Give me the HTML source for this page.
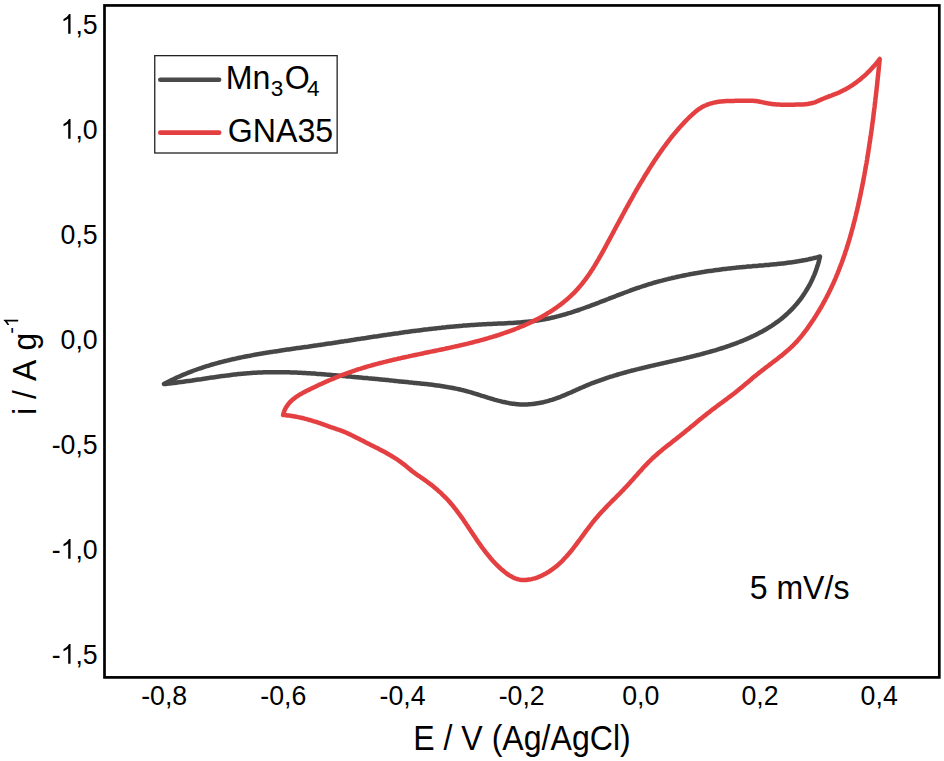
<!DOCTYPE html>
<html><head><meta charset="utf-8"><style>
html,body{margin:0;padding:0;background:#fff;}
svg{display:block;}
text{font-family:"Liberation Sans", sans-serif;fill:#000;}
</style></head><body>
<svg width="944" height="761" viewBox="0 0 944 761">
<rect x="0" y="0" width="944" height="761" fill="#fff"/>
<text transform="translate(164.15,705.30) scale(1,1.02)" font-size="26.7" text-anchor="middle" >-0,8</text>
<text transform="translate(283.32,705.30) scale(1,1.02)" font-size="26.7" text-anchor="middle" >-0,6</text>
<text transform="translate(402.49,705.30) scale(1,1.02)" font-size="26.7" text-anchor="middle" >-0,4</text>
<text transform="translate(521.66,705.30) scale(1,1.02)" font-size="26.7" text-anchor="middle" >-0,2</text>
<text transform="translate(640.83,705.30) scale(1,1.02)" font-size="26.7" text-anchor="middle" >0,0</text>
<text transform="translate(760.00,705.30) scale(1,1.02)" font-size="26.7" text-anchor="middle" >0,2</text>
<text transform="translate(879.17,705.30) scale(1,1.02)" font-size="26.7" text-anchor="middle" >0,4</text>
<path transform="translate(60.60,33.65) scale(26.7,27.234)" d="M0.3726,0L0.2847,0L0.2847,-0.560Q0.2529,-0.5298 0.2012,-0.4995Q0.1499,-0.4692 0.1089,-0.4541L0.1089,-0.5391Q0.1826,-0.5737 0.2378,-0.623Q0.2930,-0.6724 0.3159,-0.7188L0.3726,-0.7188Z"/>
<text transform="translate(75.45,33.65) scale(1,1.02)" font-size="26.7">,5</text>
<path transform="translate(60.60,138.65) scale(26.7,27.234)" d="M0.3726,0L0.2847,0L0.2847,-0.560Q0.2529,-0.5298 0.2012,-0.4995Q0.1499,-0.4692 0.1089,-0.4541L0.1089,-0.5391Q0.1826,-0.5737 0.2378,-0.623Q0.2930,-0.6724 0.3159,-0.7188L0.3726,-0.7188Z"/>
<text transform="translate(75.45,138.65) scale(1,1.02)" font-size="26.7">,0</text>
<text transform="translate(60.60,243.65) scale(1,1.02)" font-size="26.7">0,5</text>
<text transform="translate(60.60,348.65) scale(1,1.02)" font-size="26.7">0,0</text>
<text transform="translate(51.71,453.65) scale(1,1.02)" font-size="26.7">-0,5</text>
<text transform="translate(51.71,558.65) scale(1,1.02)" font-size="26.7">-</text>
<path transform="translate(60.60,558.65) scale(26.7,27.234)" d="M0.3726,0L0.2847,0L0.2847,-0.560Q0.2529,-0.5298 0.2012,-0.4995Q0.1499,-0.4692 0.1089,-0.4541L0.1089,-0.5391Q0.1826,-0.5737 0.2378,-0.623Q0.2930,-0.6724 0.3159,-0.7188L0.3726,-0.7188Z"/>
<text transform="translate(75.45,558.65) scale(1,1.02)" font-size="26.7">,0</text>
<text transform="translate(51.71,663.65) scale(1,1.02)" font-size="26.7">-</text>
<path transform="translate(60.60,663.65) scale(26.7,27.234)" d="M0.3726,0L0.2847,0L0.2847,-0.560Q0.2529,-0.5298 0.2012,-0.4995Q0.1499,-0.4692 0.1089,-0.4541L0.1089,-0.5391Q0.1826,-0.5737 0.2378,-0.623Q0.2930,-0.6724 0.3159,-0.7188L0.3726,-0.7188Z"/>
<text transform="translate(75.45,663.65) scale(1,1.02)" font-size="26.7">,5</text>
<path d="M164.0,384.0L165.3,383.3L166.7,382.6L168.0,381.9L169.3,381.2L170.7,380.5L172.0,379.9L173.4,379.2L174.7,378.6L176.1,377.9L177.4,377.3L178.8,376.7L180.2,376.1L181.5,375.5L182.9,374.9L184.3,374.3L185.7,373.8L187.0,373.2L188.4,372.6L189.8,372.1L191.2,371.6L192.6,371.0L194.0,370.5L195.4,370.0L196.8,369.5L198.2,369.0L199.6,368.5L201.0,368.1L202.4,367.6L203.8,367.1L205.2,366.7L206.7,366.2L208.1,365.8L209.5,365.4L210.9,364.9L212.3,364.5L213.8,364.1L215.2,363.7L216.6,363.3L218.1,362.9L219.5,362.5L220.9,362.1L222.4,361.8L223.8,361.4L225.3,361.0L226.7,360.7L228.2,360.3L229.6,360.0L231.1,359.6L232.5,359.3L234.0,359.0L235.4,358.7L236.9,358.3L238.3,358.0L239.8,357.7L241.3,357.4L242.7,357.1L244.2,356.8L245.7,356.5L247.1,356.2L248.6,355.9L250.1,355.7L251.5,355.4L253.0,355.1L254.5,354.8L256.0,354.6L257.4,354.3L258.9,354.1L260.4,353.8L261.9,353.6L263.3,353.3L264.8,353.1L266.3,352.8L267.8,352.6L269.3,352.3L270.8,352.1L272.2,351.9L273.7,351.6L275.2,351.4L276.7,351.2L278.2,351.0L279.7,350.7L281.2,350.5L282.6,350.3L284.1,350.1L285.6,349.8L287.1,349.6L288.6,349.4L290.1,349.2L291.6,349.0L293.1,348.8L294.6,348.6L296.0,348.3L297.5,348.1L299.0,347.9L300.5,347.7L302.0,347.5L303.5,347.3L305.0,347.1L306.5,346.9L308.0,346.7L309.4,346.4L310.9,346.2L312.4,346.0L313.9,345.8L315.4,345.6L316.9,345.4L318.4,345.1L319.9,344.9L321.3,344.7L322.8,344.5L324.3,344.3L325.8,344.0L327.3,343.8L328.8,343.6L330.2,343.4L331.7,343.2L333.2,342.9L334.7,342.7L336.2,342.5L337.7,342.3L339.1,342.0L340.6,341.8L342.1,341.6L343.6,341.4L345.1,341.1L346.5,340.9L348.0,340.7L349.5,340.4L351.0,340.2L352.5,340.0L353.9,339.8L355.4,339.5L356.9,339.3L358.4,339.1L359.9,338.9L361.3,338.6L362.8,338.4L364.3,338.2L365.8,338.0L367.3,337.7L368.7,337.5L370.2,337.3L371.7,337.1L373.2,336.8L374.6,336.6L376.1,336.4L377.6,336.2L379.1,335.9L380.6,335.7L382.0,335.5L383.5,335.3L385.0,335.1L386.5,334.9L387.9,334.6L389.4,334.4L390.9,334.2L392.4,334.0L393.9,333.8L395.3,333.6L396.8,333.4L398.3,333.2L399.8,332.9L401.2,332.7L402.7,332.5L404.2,332.3L405.7,332.1L407.2,331.9L408.6,331.7L410.1,331.5L411.6,331.3L413.1,331.1L414.6,330.9L416.0,330.7L417.5,330.6L419.0,330.4L420.5,330.2L422.0,330.0L423.4,329.8L424.9,329.6L426.4,329.4L427.9,329.3L429.4,329.1L430.9,328.9L432.3,328.7L433.8,328.6L435.3,328.4L436.8,328.2L438.3,328.1L439.8,327.9L441.2,327.8L442.7,327.6L444.2,327.4L445.7,327.3L447.2,327.1L448.7,327.0L450.2,326.8L451.6,326.7L453.1,326.6L454.6,326.4L456.1,326.3L457.6,326.2L459.1,326.0L460.6,325.9L462.1,325.8L463.6,325.6L465.1,325.5L466.5,325.4L468.0,325.3L469.5,325.2L471.0,325.1L472.5,325.0L474.0,324.9L475.5,324.8L477.0,324.7L478.5,324.6L480.0,324.5L481.5,324.4L483.0,324.3L484.5,324.2L486.0,324.2L487.5,324.1L489.0,324.0L490.5,324.0L492.0,323.9L493.5,323.8L495.0,323.8L496.5,323.7L498.0,323.6L499.5,323.6L501.0,323.5L502.5,323.4L504.0,323.4L505.5,323.3L507.0,323.2L508.5,323.1L510.0,323.1L511.5,323.0L513.0,322.9L514.5,322.8L516.0,322.7L517.5,322.6L519.0,322.5L520.5,322.4L522.0,322.2L523.5,322.1L525.0,322.0L526.5,321.8L527.9,321.7L529.4,321.5L530.9,321.4L532.4,321.2L533.9,321.0L535.3,320.8L536.8,320.6L538.3,320.4L539.8,320.1L541.2,319.9L542.7,319.6L544.2,319.4L545.6,319.1L547.1,318.8L548.5,318.5L550.0,318.2L551.4,317.8L552.9,317.5L554.3,317.2L555.8,316.8L557.2,316.4L558.7,316.1L560.1,315.7L561.5,315.3L563.0,314.9L564.4,314.5L565.8,314.1L567.3,313.6L568.7,313.2L570.1,312.8L571.6,312.3L573.0,311.9L574.4,311.4L575.8,310.9L577.2,310.5L578.7,310.0L580.1,309.5L581.5,309.0L582.9,308.5L584.3,308.0L585.7,307.5L587.1,307.0L588.6,306.5L590.0,306.0L591.4,305.4L592.8,304.9L594.2,304.4L595.6,303.9L597.0,303.3L598.4,302.8L599.8,302.2L601.2,301.7L602.6,301.2L604.0,300.6L605.4,300.1L606.8,299.5L608.2,299.0L609.6,298.4L611.0,297.9L612.4,297.4L613.8,296.8L615.2,296.3L616.6,295.7L618.0,295.2L619.4,294.6L620.8,294.1L622.2,293.6L623.7,293.0L625.1,292.5L626.5,292.0L627.9,291.5L629.3,291.0L630.7,290.4L632.1,289.9L633.5,289.4L634.9,288.9L636.3,288.4L637.8,287.9L639.2,287.5L640.6,287.0L642.0,286.5L643.4,286.0L644.9,285.6L646.3,285.1L647.7,284.7L649.2,284.2L650.6,283.8L652.0,283.4L653.4,282.9L654.9,282.5L656.3,282.1L657.8,281.7L659.2,281.3L660.6,280.9L662.1,280.6L663.5,280.2L665.0,279.8L666.4,279.4L667.9,279.1L669.3,278.7L670.8,278.4L672.2,278.0L673.7,277.7L675.1,277.4L676.6,277.0L678.0,276.7L679.5,276.4L681.0,276.1L682.4,275.8L683.9,275.5L685.4,275.2L686.8,274.9L688.3,274.6L689.7,274.3L691.2,274.0L692.7,273.8L694.2,273.5L695.6,273.2L697.1,273.0L698.6,272.7L700.0,272.5L701.5,272.2L703.0,272.0L704.5,271.8L705.9,271.5L707.4,271.3L708.9,271.1L710.4,270.9L711.9,270.7L713.3,270.5L714.8,270.2L716.3,270.0L717.8,269.9L719.3,269.7L720.8,269.5L722.2,269.3L723.7,269.1L725.2,268.9L726.7,268.7L728.2,268.6L729.7,268.4L731.2,268.2L732.7,268.1L734.1,267.9L735.6,267.8L737.1,267.6L738.6,267.5L740.1,267.3L741.6,267.2L743.1,267.0L744.6,266.9L746.1,266.8L747.6,266.6L749.0,266.5L750.5,266.4L752.0,266.3L753.5,266.1L755.0,266.0L756.5,265.9L758.0,265.8L759.5,265.6L761.0,265.5L762.5,265.4L764.0,265.3L765.5,265.1L766.9,265.0L768.4,264.9L769.9,264.7L771.4,264.6L772.9,264.5L774.4,264.3L775.9,264.2L777.4,264.0L778.8,263.8L780.3,263.7L781.8,263.5L783.3,263.4L784.8,263.2L786.3,263.0L787.7,262.8L789.2,262.6L790.7,262.4L792.2,262.2L793.7,262.0L795.1,261.8L796.6,261.5L798.1,261.3L799.6,261.0L801.0,260.8L802.5,260.5L804.0,260.2L805.4,260.0L806.9,259.7L808.4,259.4L809.8,259.0L811.3,258.7L812.7,258.4L814.2,258.0L815.6,257.7L817.1,257.3L818.6,256.9L820.0,256.5L819.7,258.0L819.3,259.4L819.0,260.9L818.6,262.3L818.2,263.7L817.7,265.2L817.3,266.6L816.8,268.0L816.3,269.5L815.8,270.9L815.3,272.3L814.8,273.7L814.2,275.1L813.6,276.4L813.0,277.8L812.4,279.2L811.7,280.6L811.1,281.9L810.4,283.3L809.7,284.6L809.0,285.9L808.2,287.2L807.5,288.5L806.7,289.8L805.9,291.1L805.1,292.4L804.3,293.6L803.5,294.9L802.6,296.1L801.8,297.4L800.9,298.6L800.0,299.8L799.0,301.0L798.1,302.1L797.2,303.3L796.2,304.4L795.2,305.6L794.2,306.7L793.2,307.8L792.2,308.9L791.2,309.9L790.1,311.0L789.0,312.0L788.0,313.0L786.9,314.1L785.8,315.0L784.7,316.0L783.5,317.0L782.4,317.9L781.2,318.9L780.1,319.8L778.9,320.7L777.7,321.6L776.5,322.4L775.3,323.3L774.1,324.2L772.8,325.0L771.6,325.8L770.3,326.6L769.1,327.4L767.8,328.2L766.5,329.0L765.2,329.7L763.9,330.5L762.6,331.2L761.3,331.9L760.0,332.6L758.7,333.3L757.3,334.0L756.0,334.7L754.7,335.3L753.3,336.0L751.9,336.6L750.6,337.3L749.2,337.9L747.8,338.5L746.4,339.1L745.0,339.7L743.7,340.3L742.3,340.9L740.9,341.4L739.4,342.0L738.0,342.5L736.6,343.1L735.2,343.6L733.8,344.1L732.4,344.6L730.9,345.2L729.5,345.7L728.1,346.1L726.7,346.6L725.2,347.1L723.8,347.6L722.4,348.0L720.9,348.5L719.5,348.9L718.1,349.4L716.6,349.8L715.2,350.3L713.7,350.7L712.3,351.1L710.8,351.5L709.4,351.9L708.0,352.3L706.5,352.7L705.1,353.1L703.6,353.5L702.2,353.9L700.7,354.3L699.3,354.7L697.8,355.0L696.3,355.4L694.9,355.8L693.4,356.1L692.0,356.5L690.5,356.8L689.1,357.2L687.6,357.5L686.2,357.9L684.7,358.2L683.2,358.6L681.8,358.9L680.3,359.3L678.9,359.6L677.4,359.9L675.9,360.3L674.5,360.6L673.0,360.9L671.6,361.3L670.1,361.6L668.6,361.9L667.2,362.3L665.7,362.6L664.3,362.9L662.8,363.3L661.3,363.6L659.9,363.9L658.4,364.3L657.0,364.6L655.5,364.9L654.1,365.3L652.6,365.6L651.1,365.9L649.7,366.3L648.2,366.6L646.8,367.0L645.3,367.3L643.9,367.7L642.4,368.0L641.0,368.4L639.5,368.7L638.1,369.1L636.6,369.4L635.2,369.8L633.7,370.2L632.3,370.5L630.8,370.9L629.4,371.3L627.9,371.7L626.5,372.1L625.1,372.5L623.6,372.9L622.2,373.3L620.7,373.7L619.3,374.1L617.9,374.5L616.4,375.0L615.0,375.4L613.6,375.8L612.1,376.3L610.7,376.7L609.3,377.2L607.9,377.6L606.4,378.1L605.0,378.6L603.6,379.1L602.2,379.6L600.8,380.1L599.4,380.6L598.0,381.1L596.5,381.6L595.1,382.1L593.7,382.7L592.3,383.2L590.9,383.7L589.5,384.3L588.1,384.9L586.8,385.4L585.4,386.0L584.0,386.6L582.6,387.2L581.2,387.8L579.8,388.4L578.5,389.0L577.1,389.6L575.7,390.3L574.3,390.9L572.9,391.5L571.6,392.1L570.2,392.7L568.8,393.3L567.4,393.9L566.0,394.5L564.6,395.1L563.2,395.7L561.9,396.2L560.5,396.8L559.1,397.3L557.6,397.8L556.2,398.4L554.8,398.8L553.4,399.3L552.0,399.8L550.5,400.2L549.1,400.7L547.7,401.1L546.2,401.4L544.8,401.8L543.3,402.2L541.9,402.5L540.4,402.8L538.9,403.1L537.5,403.3L536.0,403.5L534.5,403.7L533.1,403.9L531.6,404.1L530.1,404.2L528.7,404.3L527.2,404.4L525.7,404.5L524.2,404.5L522.8,404.5L521.3,404.4L519.8,404.4L518.3,404.3L516.9,404.2L515.4,404.0L513.9,403.8L512.5,403.7L511.0,403.4L509.6,403.2L508.1,402.9L506.6,402.6L505.2,402.3L503.7,402.0L502.3,401.7L500.8,401.3L499.4,400.9L497.9,400.6L496.4,400.2L495.0,399.8L493.5,399.3L492.1,398.9L490.6,398.5L489.2,398.0L487.7,397.6L486.3,397.1L484.8,396.7L483.4,396.2L481.9,395.8L480.5,395.3L479.0,394.9L477.6,394.4L476.1,394.0L474.7,393.5L473.2,393.1L471.8,392.6L470.3,392.2L468.9,391.8L467.4,391.4L465.9,391.0L464.5,390.6L463.0,390.2L461.6,389.9L460.1,389.5L458.7,389.2L457.2,388.9L455.7,388.6L454.3,388.3L452.8,388.0L451.3,387.7L449.9,387.4L448.4,387.2L446.9,386.9L445.5,386.7L444.0,386.4L442.5,386.2L441.1,386.0L439.6,385.8L438.1,385.6L436.7,385.4L435.2,385.2L433.7,385.0L432.2,384.8L430.8,384.6L429.3,384.5L427.8,384.3L426.3,384.1L424.9,384.0L423.4,383.8L421.9,383.7L420.4,383.5L418.9,383.3L417.5,383.2L416.0,383.0L414.5,382.9L413.0,382.7L411.5,382.6L410.0,382.4L408.6,382.3L407.1,382.1L405.6,382.0L404.1,381.8L402.6,381.7L401.1,381.5L399.6,381.4L398.1,381.2L396.6,381.1L395.2,380.9L393.7,380.7L392.2,380.6L390.7,380.4L389.2,380.3L387.7,380.1L386.2,380.0L384.7,379.8L383.2,379.7L381.7,379.5L380.2,379.4L378.7,379.2L377.3,379.1L375.8,379.0L374.3,378.8L372.8,378.7L371.3,378.5L369.8,378.4L368.3,378.3L366.8,378.1L365.3,378.0L363.8,377.9L362.3,377.7L360.8,377.6L359.4,377.5L357.9,377.3L356.4,377.2L354.9,377.0L353.4,376.9L351.9,376.8L350.4,376.6L348.9,376.5L347.4,376.4L345.9,376.2L344.4,376.1L342.9,376.0L341.5,375.8L340.0,375.7L338.5,375.6L337.0,375.4L335.5,375.3L334.0,375.2L332.5,375.1L331.0,374.9L329.5,374.8L328.0,374.7L326.5,374.6L325.0,374.4L323.5,374.3L322.0,374.2L320.6,374.1L319.1,374.0L317.6,373.9L316.1,373.8L314.6,373.6L313.1,373.5L311.6,373.4L310.1,373.3L308.6,373.3L307.1,373.2L305.6,373.1L304.1,373.0L302.6,372.9L301.1,372.8L299.6,372.8L298.1,372.7L296.7,372.6L295.2,372.6L293.7,372.5L292.2,372.4L290.7,372.4L289.2,372.3L287.7,372.3L286.2,372.3L284.7,372.2L283.2,372.2L281.7,372.2L280.2,372.2L278.7,372.2L277.2,372.2L275.7,372.2L274.2,372.2L272.7,372.2L271.2,372.2L269.8,372.2L268.3,372.2L266.8,372.3L265.3,372.3L263.8,372.3L262.3,372.4L260.8,372.5L259.3,372.5L257.8,372.6L256.3,372.7L254.8,372.8L253.3,372.8L251.8,372.9L250.3,373.1L248.8,373.2L247.3,373.3L245.9,373.4L244.4,373.5L242.9,373.7L241.4,373.8L239.9,374.0L238.4,374.1L236.9,374.3L235.4,374.5L233.9,374.6L232.4,374.8L230.9,375.0L229.4,375.2L227.9,375.4L226.4,375.6L225.0,375.7L223.5,375.9L222.0,376.1L220.5,376.3L219.0,376.6L217.5,376.8L216.0,377.0L214.5,377.2L213.0,377.4L211.5,377.6L210.0,377.8L208.6,378.1L207.1,378.3L205.6,378.5L204.1,378.7L202.6,378.9L201.1,379.2L199.6,379.4L198.1,379.6L196.7,379.8L195.2,380.0L193.7,380.2L192.2,380.5L190.7,380.7L189.2,380.9L187.7,381.1L186.2,381.3L184.8,381.5L183.3,381.7L181.8,381.9L180.3,382.1L178.8,382.3L177.3,382.5L175.9,382.7L174.4,382.9L172.9,383.0L171.4,383.2L169.9,383.4L168.4,383.5L167.0,383.7L165.5,383.9L164.0,384.0" fill="none" stroke="#474747" stroke-width="4.5" stroke-linejoin="round" stroke-linecap="round"/>
<path d="M283.1,415.0L283.5,413.4L284.0,411.9L284.5,410.5L285.2,409.1L285.8,407.8L286.6,406.6L287.4,405.4L288.3,404.2L289.2,403.1L290.1,402.0L291.2,401.0L292.2,400.0L293.3,399.1L294.5,398.2L295.6,397.3L296.8,396.5L298.1,395.7L299.3,394.9L300.6,394.1L301.9,393.4L303.3,392.6L304.6,391.9L305.9,391.2L307.3,390.5L308.7,389.9L310.0,389.2L311.4,388.5L312.8,387.9L314.1,387.2L315.5,386.6L316.9,385.9L318.3,385.3L319.6,384.6L321.0,384.0L322.4,383.4L323.8,382.7L325.1,382.1L326.5,381.5L327.9,380.9L329.3,380.3L330.7,379.7L332.1,379.1L333.5,378.6L334.8,378.0L336.2,377.4L337.6,376.8L339.0,376.3L340.4,375.7L341.8,375.2L343.2,374.7L344.6,374.1L346.0,373.6L347.4,373.1L348.8,372.6L350.2,372.1L351.7,371.6L353.1,371.1L354.5,370.6L355.9,370.2L357.3,369.7L358.7,369.2L360.2,368.8L361.6,368.3L363.0,367.9L364.4,367.5L365.9,367.0L367.3,366.6L368.7,366.2L370.2,365.8L371.6,365.4L373.0,365.0L374.5,364.6L375.9,364.2L377.4,363.8L378.8,363.4L380.2,363.0L381.7,362.7L383.1,362.3L384.6,361.9L386.0,361.6L387.5,361.2L388.9,360.9L390.4,360.5L391.8,360.2L393.3,359.8L394.7,359.5L396.2,359.2L397.7,358.8L399.1,358.5L400.6,358.2L402.0,357.8L403.5,357.5L404.9,357.2L406.4,356.9L407.9,356.6L409.3,356.2L410.8,355.9L412.3,355.6L413.7,355.3L415.2,355.0L416.6,354.7L418.1,354.4L419.6,354.1L421.0,353.8L422.5,353.5L424.0,353.1L425.4,352.8L426.9,352.5L428.4,352.2L429.8,351.9L431.3,351.6L432.8,351.3L434.2,351.0L435.7,350.7L437.2,350.4L438.6,350.1L440.1,349.8L441.6,349.5L443.0,349.2L444.5,348.9L446.0,348.5L447.4,348.2L448.9,347.9L450.4,347.6L451.8,347.3L453.3,346.9L454.8,346.6L456.2,346.3L457.7,346.0L459.2,345.6L460.6,345.3L462.1,344.9L463.5,344.6L465.0,344.3L466.5,343.9L467.9,343.6L469.4,343.2L470.8,342.8L472.3,342.5L473.7,342.1L475.2,341.7L476.6,341.3L478.1,341.0L479.6,340.6L481.0,340.2L482.5,339.8L483.9,339.4L485.3,339.0L486.8,338.6L488.2,338.2L489.7,337.7L491.1,337.3L492.6,336.9L494.0,336.4L495.4,336.0L496.9,335.5L498.3,335.1L499.7,334.6L501.2,334.1L502.6,333.6L504.0,333.2L505.5,332.7L506.9,332.2L508.3,331.7L509.7,331.1L511.2,330.6L512.6,330.1L514.0,329.6L515.4,329.0L516.8,328.5L518.2,327.9L519.6,327.3L521.0,326.7L522.4,326.2L523.8,325.6L525.2,325.0L526.5,324.3L527.9,323.7L529.3,323.1L530.6,322.4L532.0,321.8L533.4,321.1L534.7,320.5L536.0,319.8L537.4,319.1L538.7,318.4L540.0,317.7L541.3,317.0L542.7,316.2L544.0,315.5L545.2,314.8L546.5,314.0L547.8,313.2L549.1,312.4L550.3,311.7L551.6,310.8L552.8,310.0L554.1,309.2L555.3,308.4L556.5,307.5L557.7,306.7L558.9,305.8L560.1,304.9L561.3,304.0L562.4,303.1L563.6,302.2L564.7,301.2L565.9,300.3L567.0,299.3L568.1,298.4L569.2,297.4L570.3,296.4L571.4,295.4L572.4,294.3L573.5,293.3L574.5,292.3L575.6,291.2L576.6,290.1L577.6,289.0L578.5,287.9L579.5,286.8L580.5,285.7L581.4,284.5L582.4,283.4L583.3,282.2L584.2,281.0L585.1,279.8L586.0,278.6L586.9,277.4L587.7,276.2L588.6,275.0L589.5,273.7L590.3,272.5L591.1,271.2L592.0,270.0L592.8,268.7L593.6,267.4L594.4,266.1L595.2,264.8L596.0,263.5L596.7,262.2L597.5,260.9L598.3,259.6L599.0,258.3L599.8,257.0L600.5,255.7L601.3,254.4L602.0,253.0L602.8,251.7L603.5,250.4L604.2,249.1L605.0,247.7L605.7,246.4L606.4,245.1L607.1,243.7L607.8,242.4L608.5,241.1L609.3,239.8L610.0,238.4L610.7,237.1L611.4,235.8L612.1,234.5L612.8,233.2L613.5,231.9L614.2,230.5L614.9,229.2L615.6,227.9L616.3,226.6L617.0,225.3L617.7,224.0L618.4,222.7L619.1,221.4L619.8,220.1L620.6,218.7L621.3,217.4L622.0,216.1L622.7,214.8L623.4,213.5L624.1,212.2L624.8,210.9L625.5,209.6L626.2,208.3L626.9,207.0L627.7,205.7L628.4,204.4L629.1,203.1L629.8,201.8L630.6,200.5L631.3,199.2L632.0,197.9L632.8,196.6L633.5,195.2L634.2,193.9L635.0,192.6L635.7,191.3L636.5,190.0L637.2,188.7L638.0,187.4L638.7,186.1L639.5,184.8L640.3,183.5L641.0,182.2L641.8,181.0L642.6,179.7L643.4,178.4L644.1,177.1L644.9,175.8L645.7,174.5L646.5,173.2L647.3,172.0L648.1,170.7L648.9,169.4L649.7,168.1L650.5,166.9L651.3,165.6L652.1,164.3L653.0,163.1L653.8,161.8L654.6,160.6L655.4,159.3L656.3,158.1L657.1,156.8L658.0,155.6L658.8,154.3L659.7,153.1L660.5,151.9L661.4,150.7L662.3,149.4L663.1,148.2L664.0,147.0L664.9,145.8L665.8,144.6L666.7,143.4L667.6,142.2L668.5,141.0L669.4,139.9L670.3,138.7L671.2,137.5L672.2,136.3L673.1,135.2L674.1,134.0L675.0,132.9L676.0,131.7L676.9,130.6L677.9,129.5L678.9,128.3L679.9,127.2L680.9,126.1L681.9,125.0L682.9,123.9L683.9,122.8L685.0,121.7L686.0,120.6L687.1,119.5L688.1,118.5L689.2,117.4L690.3,116.3L691.4,115.3L692.5,114.3L693.7,113.3L694.8,112.3L696.0,111.3L697.1,110.4L698.3,109.5L699.6,108.7L700.8,107.9L702.0,107.1L703.3,106.4L704.6,105.8L706.0,105.2L707.3,104.6L708.7,104.1L710.1,103.7L711.5,103.3L712.9,102.9L714.3,102.6L715.8,102.3L717.2,102.0L718.7,101.8L720.2,101.6L721.7,101.4L723.2,101.3L724.7,101.2L726.2,101.1L727.7,101.0L729.2,101.0L730.7,100.9L732.3,100.9L733.8,100.9L735.3,100.8L736.8,100.8L738.3,100.8L739.8,100.8L741.3,100.8L742.8,100.8L744.3,100.8L745.7,100.7L747.2,100.7L748.7,100.7L750.1,100.7L751.6,100.7L753.0,100.8L754.4,100.9L755.9,101.1L757.3,101.3L758.8,101.5L760.2,101.8L761.7,102.1L763.1,102.4L764.6,102.7L766.1,103.1L767.5,103.3L769.0,103.6L770.5,103.8L771.9,104.0L773.4,104.2L774.9,104.3L776.4,104.5L777.9,104.6L779.3,104.6L780.8,104.7L782.3,104.7L783.8,104.8L785.3,104.8L786.8,104.8L788.3,104.8L789.8,104.8L791.3,104.7L792.8,104.7L794.3,104.7L795.8,104.6L797.3,104.6L798.8,104.6L800.3,104.5L801.8,104.5L803.2,104.4L804.7,104.3L806.0,104.2L807.3,104.0L808.6,103.8L809.8,103.5L811.0,103.3L812.2,103.0L813.5,102.7L814.8,102.3L816.1,101.8L817.4,101.2L818.8,100.6L820.2,100.0L821.6,99.4L823.0,98.8L824.4,98.2L825.8,97.6L827.2,97.1L828.6,96.5L830.1,96.0L831.5,95.5L832.9,94.9L834.3,94.4L835.7,93.8L837.1,93.3L838.5,92.7L839.9,92.1L841.2,91.4L842.6,90.8L843.9,90.1L845.2,89.4L846.5,88.7L847.8,87.9L849.1,87.2L850.4,86.4L851.6,85.6L852.9,84.8L854.1,83.9L855.3,83.1L856.5,82.2L857.7,81.3L858.9,80.4L860.0,79.5L861.2,78.5L862.3,77.6L863.5,76.6L864.6,75.6L865.7,74.6L866.8,73.6L867.8,72.5L868.9,71.5L870.0,70.4L871.0,69.3L872.0,68.2L873.0,67.1L874.0,66.0L875.0,64.9L876.0,63.7L876.9,62.6L877.9,61.4L878.8,60.2L879.7,59.0L879.6,60.5L879.4,62.0L879.3,63.5L879.1,65.0L879.0,66.5L878.8,67.9L878.7,69.4L878.5,70.9L878.4,72.4L878.2,73.9L878.1,75.4L877.9,76.9L877.7,78.4L877.6,79.9L877.4,81.4L877.3,82.9L877.1,84.3L877.0,85.8L876.8,87.3L876.6,88.8L876.5,90.3L876.3,91.8L876.1,93.3L876.0,94.8L875.8,96.3L875.6,97.8L875.4,99.2L875.3,100.7L875.1,102.2L874.9,103.7L874.7,105.2L874.6,106.7L874.4,108.2L874.2,109.7L874.0,111.1L873.8,112.6L873.6,114.1L873.5,115.6L873.3,117.1L873.1,118.6L872.9,120.1L872.7,121.6L872.5,123.0L872.3,124.5L872.1,126.0L871.9,127.5L871.7,129.0L871.5,130.5L871.3,132.0L871.1,133.4L870.9,134.9L870.6,136.4L870.4,137.9L870.2,139.4L870.0,140.9L869.8,142.3L869.5,143.8L869.3,145.3L869.1,146.8L868.9,148.3L868.6,149.8L868.4,151.2L868.2,152.7L867.9,154.2L867.7,155.7L867.4,157.2L867.2,158.6L867.0,160.1L866.7,161.6L866.5,163.1L866.2,164.6L865.9,166.0L865.7,167.5L865.4,169.0L865.2,170.5L864.9,171.9L864.6,173.4L864.4,174.9L864.1,176.4L863.8,177.8L863.5,179.3L863.3,180.8L863.0,182.3L862.7,183.7L862.4,185.2L862.1,186.7L861.8,188.2L861.5,189.6L861.2,191.1L860.9,192.6L860.6,194.0L860.3,195.5L860.0,197.0L859.7,198.4L859.4,199.9L859.0,201.4L858.7,202.8L858.4,204.3L858.1,205.8L857.7,207.2L857.4,208.7L857.1,210.2L856.7,211.6L856.4,213.1L856.0,214.6L855.7,216.0L855.3,217.5L855.0,218.9L854.6,220.4L854.2,221.8L853.8,223.3L853.5,224.7L853.1,226.2L852.7,227.6L852.3,229.1L851.9,230.5L851.5,232.0L851.1,233.4L850.7,234.9L850.3,236.3L849.9,237.7L849.5,239.2L849.0,240.6L848.6,242.1L848.2,243.5L847.7,244.9L847.3,246.3L846.8,247.8L846.4,249.2L845.9,250.6L845.4,252.0L845.0,253.5L844.5,254.9L844.0,256.3L843.5,257.7L843.0,259.1L842.5,260.5L842.0,261.9L841.5,263.3L840.9,264.7L840.4,266.1L839.9,267.5L839.3,268.9L838.8,270.3L838.2,271.7L837.7,273.1L837.1,274.4L836.5,275.8L836.0,277.2L835.4,278.6L834.8,279.9L834.2,281.3L833.6,282.7L833.0,284.0L832.3,285.4L831.7,286.8L831.1,288.1L830.4,289.5L829.8,290.8L829.1,292.1L828.5,293.5L827.8,294.8L827.1,296.1L826.4,297.5L825.7,298.8L825.0,300.1L824.3,301.4L823.6,302.7L822.8,304.1L822.1,305.4L821.4,306.7L820.6,308.0L819.8,309.3L819.1,310.5L818.3,311.8L817.5,313.1L816.7,314.4L815.9,315.7L815.1,316.9L814.3,318.2L813.5,319.5L812.6,320.7L811.8,321.9L811.0,323.2L810.1,324.4L809.3,325.6L808.4,326.9L807.6,328.1L806.7,329.3L805.8,330.5L804.9,331.7L804.1,332.8L803.1,334.0L802.2,335.2L801.3,336.3L800.4,337.4L799.4,338.6L798.4,339.7L797.5,340.8L796.5,341.9L795.5,342.9L794.4,344.0L793.4,345.1L792.3,346.1L791.3,347.1L790.2,348.1L789.1,349.1L788.0,350.1L786.9,351.1L785.7,352.1L784.6,353.0L783.4,354.0L782.3,354.9L781.1,355.9L779.9,356.8L778.7,357.7L777.6,358.7L776.4,359.6L775.2,360.5L774.0,361.4L772.8,362.3L771.6,363.2L770.4,364.1L769.2,365.1L768.0,366.0L766.7,366.9L765.5,367.8L764.4,368.7L763.2,369.6L762.0,370.5L760.8,371.5L759.6,372.4L758.4,373.3L757.3,374.3L756.1,375.2L754.9,376.2L753.8,377.1L752.6,378.1L751.5,379.0L750.4,380.0L749.2,381.0L748.1,381.9L746.9,382.9L745.8,383.8L744.6,384.8L743.5,385.8L742.4,386.7L741.2,387.7L740.1,388.6L738.9,389.6L737.8,390.5L736.6,391.4L735.4,392.4L734.3,393.3L733.1,394.2L731.9,395.1L730.7,396.0L729.5,396.9L728.3,397.8L727.1,398.7L725.9,399.6L724.7,400.5L723.5,401.4L722.3,402.3L721.1,403.2L719.9,404.0L718.7,404.9L717.5,405.8L716.3,406.7L715.1,407.6L713.9,408.5L712.7,409.4L711.5,410.3L710.3,411.2L709.1,412.2L707.9,413.1L706.7,414.0L705.6,414.9L704.4,415.9L703.2,416.8L702.1,417.8L700.9,418.7L699.8,419.6L698.6,420.6L697.5,421.5L696.3,422.5L695.1,423.5L694.0,424.4L692.8,425.4L691.7,426.3L690.5,427.3L689.4,428.2L688.2,429.2L687.1,430.1L685.9,431.1L684.8,432.0L683.6,433.0L682.4,433.9L681.3,434.8L680.1,435.8L678.9,436.7L677.8,437.6L676.6,438.6L675.4,439.5L674.2,440.4L673.0,441.3L671.9,442.2L670.7,443.2L669.5,444.1L668.3,445.0L667.1,445.9L666.0,446.9L664.8,447.8L663.6,448.7L662.5,449.7L661.3,450.6L660.2,451.6L659.0,452.5L657.9,453.5L656.8,454.5L655.7,455.5L654.5,456.5L653.4,457.5L652.3,458.5L651.3,459.5L650.2,460.6L649.1,461.6L648.1,462.7L647.0,463.8L646.0,464.8L645.0,465.9L643.9,467.0L642.9,468.1L641.9,469.3L640.9,470.4L639.9,471.5L638.9,472.6L637.9,473.7L636.9,474.9L635.9,476.0L634.9,477.1L633.9,478.2L632.9,479.4L631.9,480.5L630.9,481.6L629.9,482.7L628.9,483.8L627.9,484.9L626.9,486.0L625.9,487.1L624.8,488.2L623.8,489.3L622.8,490.4L621.7,491.4L620.7,492.5L619.7,493.6L618.6,494.6L617.6,495.7L616.5,496.7L615.5,497.8L614.4,498.8L613.3,499.9L612.3,500.9L611.2,502.0L610.2,503.0L609.2,504.1L608.1,505.1L607.1,506.2L606.0,507.3L605.0,508.3L604.0,509.4L603.0,510.5L601.9,511.6L600.9,512.7L599.9,513.8L598.9,514.9L598.0,516.0L597.0,517.2L596.0,518.3L595.0,519.5L594.1,520.6L593.1,521.8L592.2,523.0L591.3,524.2L590.4,525.4L589.4,526.6L588.5,527.8L587.6,529.0L586.7,530.2L585.8,531.4L584.9,532.6L584.0,533.9L583.1,535.1L582.2,536.3L581.3,537.5L580.4,538.8L579.5,540.0L578.6,541.2L577.7,542.4L576.8,543.6L575.9,544.8L575.0,546.0L574.1,547.2L573.2,548.4L572.2,549.6L571.3,550.8L570.3,551.9L569.4,553.1L568.4,554.2L567.4,555.3L566.4,556.5L565.4,557.5L564.4,558.6L563.4,559.7L562.4,560.8L561.3,561.8L560.2,562.8L559.1,563.8L558.0,564.8L556.9,565.8L555.8,566.7L554.6,567.6L553.5,568.5L552.3,569.4L551.1,570.2L549.8,571.1L548.6,571.9L547.3,572.6L546.0,573.4L544.7,574.1L543.4,574.8L542.0,575.5L540.6,576.1L539.2,576.7L537.7,577.3L536.3,577.8L534.8,578.3L533.3,578.7L531.9,579.1L530.4,579.4L528.9,579.6L527.4,579.8L525.9,580.0L524.4,580.0L522.9,580.0L521.5,579.9L520.1,579.7L518.6,579.4L517.2,579.0L515.9,578.6L514.5,578.1L513.2,577.5L511.9,576.8L510.6,576.1L509.3,575.3L508.0,574.5L506.8,573.6L505.6,572.7L504.4,571.8L503.2,570.8L502.0,569.8L500.9,568.8L499.7,567.8L498.6,566.7L497.5,565.6L496.5,564.6L495.4,563.5L494.4,562.4L493.3,561.3L492.3,560.2L491.3,559.0L490.3,557.9L489.4,556.7L488.4,555.6L487.5,554.4L486.5,553.2L485.6,552.1L484.7,550.9L483.8,549.7L482.9,548.5L482.0,547.3L481.1,546.1L480.3,544.8L479.4,543.6L478.5,542.4L477.7,541.2L476.8,539.9L476.0,538.7L475.2,537.4L474.3,536.2L473.5,535.0L472.7,533.7L471.8,532.5L471.0,531.2L470.2,530.0L469.3,528.7L468.5,527.5L467.7,526.2L466.8,525.0L466.0,523.8L465.2,522.5L464.3,521.3L463.5,520.1L462.6,518.8L461.8,517.6L460.9,516.4L460.0,515.2L459.2,514.0L458.3,512.8L457.4,511.6L456.5,510.4L455.6,509.2L454.6,508.1L453.7,506.9L452.8,505.7L451.8,504.6L450.9,503.5L449.9,502.3L448.9,501.2L447.9,500.1L446.9,499.0L445.8,497.9L444.8,496.9L443.7,495.8L442.6,494.8L441.6,493.7L440.5,492.7L439.4,491.7L438.2,490.7L437.1,489.7L436.0,488.7L434.8,487.7L433.7,486.8L432.5,485.8L431.3,484.9L430.1,484.0L428.9,483.1L427.7,482.2L426.5,481.3L425.3,480.4L424.1,479.6L422.8,478.7L421.6,477.9L420.4,477.0L419.2,476.2L417.9,475.3L416.7,474.5L415.5,473.6L414.3,472.7L413.1,471.9L411.9,471.0L410.8,470.0L409.6,469.1L408.5,468.1L407.3,467.2L406.2,466.2L405.1,465.3L403.9,464.4L402.7,463.5L401.5,462.6L400.3,461.7L399.1,460.9L397.9,460.0L396.7,459.2L395.4,458.4L394.2,457.6L392.9,456.8L391.6,456.0L390.3,455.3L389.0,454.5L387.7,453.8L386.4,453.0L385.1,452.3L383.8,451.6L382.5,450.9L381.2,450.2L379.8,449.5L378.5,448.8L377.2,448.1L375.8,447.4L374.5,446.7L373.1,446.1L371.8,445.4L370.4,444.7L369.1,444.0L367.7,443.4L366.4,442.7L365.0,442.0L363.7,441.3L362.4,440.6L361.0,440.0L359.7,439.3L358.3,438.6L357.0,437.9L355.6,437.2L354.3,436.6L353.0,435.9L351.7,435.3L350.3,434.6L349.0,434.0L347.7,433.4L346.4,432.8L345.1,432.2L343.7,431.7L342.4,431.1L341.1,430.6L339.8,430.1L338.6,429.7L337.3,429.3L336.0,428.8L334.7,428.4L333.4,428.0L332.1,427.5L330.7,427.1L329.4,426.6L328.0,426.1L326.7,425.6L325.3,425.1L323.9,424.6L322.5,424.1L321.1,423.6L319.7,423.1L318.3,422.7L316.8,422.2L315.4,421.7L314.0,421.3L312.5,420.8L311.1,420.4L309.6,420.0L308.2,419.6L306.7,419.2L305.2,418.8L303.8,418.4L302.3,418.0L300.8,417.7L299.4,417.4L297.9,417.1L296.4,416.8L294.9,416.5L293.4,416.2L292.0,416.0L290.5,415.8L289.0,415.6L287.5,415.4L286.1,415.2L284.6,415.1L283.1,415.0" fill="none" stroke="#e44042" stroke-width="4.5" stroke-linejoin="round" stroke-linecap="round"/>
<rect x="104.5" y="5.45" width="834.8" height="671.95" fill="none" stroke="#000" stroke-width="2.7"/>
<rect x="154.75" y="55.65" width="182.4" height="97.35" fill="#fff" stroke="#222" stroke-width="1.3"/>
<line x1="160.3" y1="79.7" x2="219.1" y2="79.7" stroke="#4a4a4a" stroke-width="4.6" stroke-linecap="round"/>
<line x1="160.3" y1="132.7" x2="219.1" y2="132.7" stroke="#e44042" stroke-width="4.7" stroke-linecap="round"/>
<text transform="translate(225.76,88.90) scale(1,1.06)" font-size="32.15" text-anchor="start" >Mn</text>
<text transform="translate(270.84,96.00) scale(1,1.0)" font-size="22.5" text-anchor="start" >3</text>
<text transform="translate(284.70,89.20) scale(1,1.06)" font-size="32.15" text-anchor="start" >O</text>
<text transform="translate(306.98,96.00) scale(1,1.0)" font-size="22.5" text-anchor="start" >4</text>
<text transform="translate(227.83,141.90) scale(1,1.06)" font-size="32.15" text-anchor="start" >GNA35</text>
<text transform="translate(749.72,598.50) scale(1,1.03)" font-size="32.05" text-anchor="start" >5 mV/s</text>
<text transform="translate(413.22,749.80) scale(1,1.071)" font-size="32.09" text-anchor="start" >E / V (Ag/AgCl)</text>
<text transform="translate(35.5,414.93) rotate(-90) scale(1,1.056)" font-size="31.8">i /</text>
<text transform="translate(35.5,381.05) rotate(-90) scale(1,1.056)" font-size="31.8">A</text>
<text transform="translate(35.5,350.6) rotate(-90) scale(1,1.056)" font-size="31.8">g</text>
<g transform="translate(18.2,333.8) rotate(-90)"><text transform="translate(0.00,0.00) scale(1,1.0)" font-size="20">-</text>
<path transform="translate(6.66,0.00) scale(20,20.000)" d="M0.3726,0L0.2847,0L0.2847,-0.560Q0.2529,-0.5298 0.2012,-0.4995Q0.1499,-0.4692 0.1089,-0.4541L0.1089,-0.5391Q0.1826,-0.5737 0.2378,-0.623Q0.2930,-0.6724 0.3159,-0.7188L0.3726,-0.7188Z"/></g>
</svg>
</body></html>
